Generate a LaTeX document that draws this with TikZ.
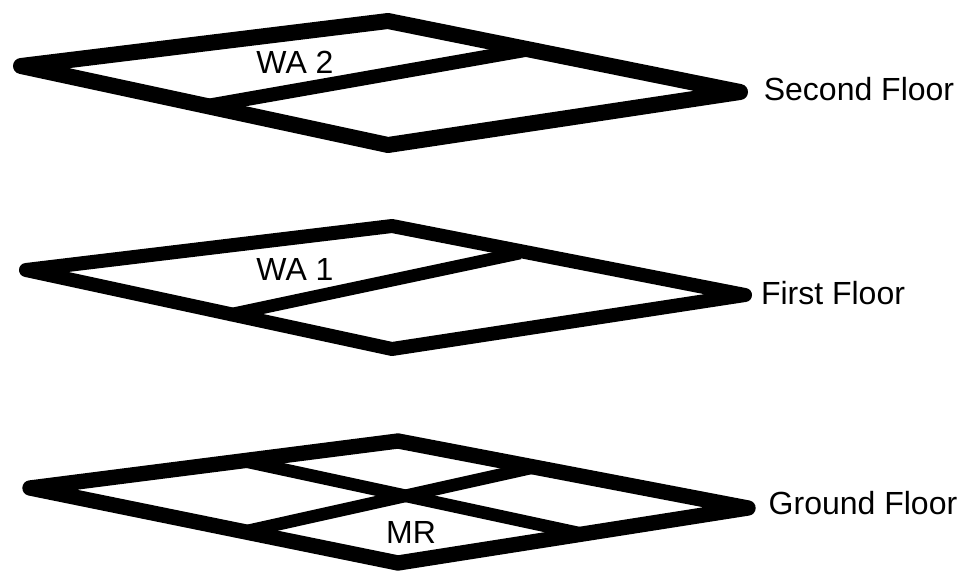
\documentclass[tikz,border=0pt]{standalone}
\usepackage{fontspec}
\setmainfont{Liberation Sans}
\tikzset{
  floorline/.style={line width=#1,black,line join=round,line cap=round},
  innerline/.style={line width=#1,black,line cap=butt},
  lbl/.style={font=\fontsize{24}{27}\selectfont,text=black,inner sep=0pt},
}
\begin{document}
\begin{tikzpicture}[x=0.75pt,y=-0.75pt]
\useasboundingbox (0,0) rectangle (961,571);
% Second floor
\coordinate (sl) at (21,66); \coordinate (st) at (388,21); \coordinate (sr) at (740,92); \coordinate (sb) at (388,145);
\coordinate (sa) at (207,106); \coordinate (sc) at (525,50);
\draw[floorline=12pt] (sl) -- (st) -- (sr) -- (sb) -- cycle;
\draw[innerline=10.5pt] (sa) -- (sc);
% First floor
\coordinate (fl) at (26,270); \coordinate (ft) at (392,226); \coordinate (fr) at (745,295); \coordinate (fb) at (392,349);
\coordinate (fa) at (228,315); \coordinate (fc) at (520,253);
\draw[floorline=10.5pt] (fl) -- (ft) -- (fr) -- (fb) -- cycle;
\draw[innerline=9.5pt] (fa) -- (fc);
% Ground floor
\coordinate (gl) at (30,488); \coordinate (gt) at (398,441); \coordinate (gr) at (748,508); \coordinate (gb) at (398,563);
\coordinate (ga) at (243,532); \coordinate (gc) at (535,467); \coordinate (gd) at (244,461); \coordinate (ge) at (583,534);
\draw[floorline=11.5pt] (gl) -- (gt) -- (gr) -- (gb) -- cycle;
\draw[innerline=9.5pt] (ga) -- (gc);
\draw[innerline=9.5pt] (gd) -- (ge);
% Labels
\node[lbl] (wa2) at (295,62) {WA 2};
\node[lbl] (wa1) at (295,269) {WA 1};
\node[lbl] (mr) at (411,532) {MR};
\node[lbl] (second) at (859,89) {Second Floor};
\node[lbl] (first) at (833,293) {First Floor};
\node[lbl] (ground) at (863,503) {Ground Floor};
\end{tikzpicture}
\end{document}
